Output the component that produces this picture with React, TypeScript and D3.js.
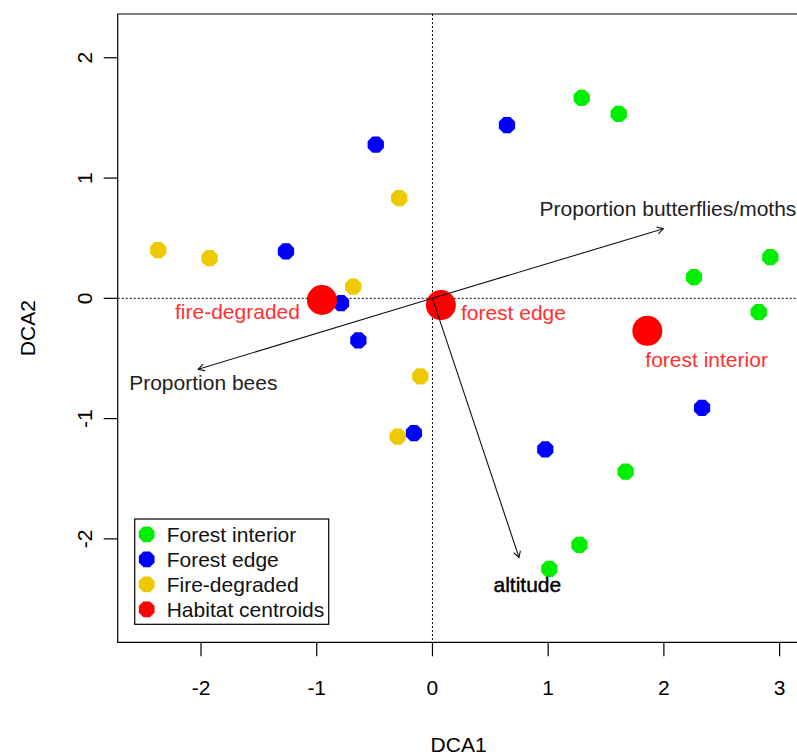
import React from "react";
import * as d3 from "d3";

const W = 797;
const H = 755;

// Sample scores (DCA1, DCA2)
const interiorX = [1.29, 1.61, 2.26, 2.92, 2.82, 1.67, 1.27, 1.01];
const interiorY = [1.666, 1.533, 0.177, 0.343, -0.114, -1.44, -2.05, -2.25];
const edgeX = [-0.49, -1.266, -0.79, 0.644, -0.64, -0.16, 0.975, 2.33];
const edgeY = [1.277, 0.39, -0.04, 1.44, -0.35, -1.12, -1.256, -0.91];
const fireX = [-2.37, -1.926, -0.287, -0.685, -0.105, -0.3];
const fireY = [0.4, 0.335, 0.834, 0.097, -0.649, -1.15];

// Habitat centroids
const centroidNames = ["fire-degraded", "forest edge", "forest interior"];
const centroidX = [-0.955, 0.073, 1.857];
const centroidY = [-0.014, -0.056, -0.27];

// Environmental vectors
const vectorNames = ["Proportion butterflies/moths", "Proportion bees", "altitude"];
const vectorX = [1.995, -2.024, 0.748];
const vectorY = [0.579, -0.59, -2.154];
const vectorLabelX = [2.035, -1.98, 0.82];
const vectorLabelY = [0.742, -0.705, -2.38];

const xTicks = [-2, -1, 0, 1, 2, 3];
const yTicks = [-2, -1, 0, 1, 2];

const legendLabels = ["Forest interior", "Forest edge", "Fire-degraded", "Habitat centroids"];
const COLORS = { interior: "#00EE00", edge: "#0000FF", fire: "#EEC900", centroid: "#FF0000" };
const legendColors = [COLORS.interior, COLORS.edge, COLORS.fire, COLORS.centroid];

const FONT = "'Liberation Sans', Arial, sans-serif";
const FS = 21;

const left = 117.7, right = 799.5, top = 14, bottom = 642.3;
const x = d3.scaleLinear().domain([-2.72, 3.172]).range([left, right]);
const y = d3.scaleLinear().domain([-2.86, 2.364]).range([bottom, top]);

function octagon(cx: number, cy: number, r: number) {
  const pts: [number, number][] = d3.range(8).map((i) => {
    const a = (Math.PI / 8) + (i * Math.PI) / 4;
    return [cx + r * Math.cos(a), cy + r * Math.sin(a)];
  });
  return (d3.line()(pts) || "") + "Z";
}

function arrowHead(x0: number, y0: number, x1: number, y1: number, len = 7) {
  const ang = Math.atan2(y1 - y0, x1 - x0);
  const a1 = ang + Math.PI - Math.PI / 6;
  const a2 = ang + Math.PI + Math.PI / 6;
  return `M${x1 + len * Math.cos(a1)},${y1 + len * Math.sin(a1)}L${x1},${y1}L${x1 + len * Math.cos(a2)},${y1 + len * Math.sin(a2)}`;
}

const centroidLabelStyle = [
  { anchor: "end", dx: -22, dy: 12 },
  { anchor: "start", dx: 20, dy: 8 },
  { anchor: "start", dx: -2, dy: 29 },
];

export default function App() {
  const groups = [
    { xs: interiorX, ys: interiorY, c: COLORS.interior },
    { xs: edgeX, ys: edgeY, c: COLORS.edge },
    { xs: fireX, ys: fireY, c: COLORS.fire },
  ];
  const x0 = x(0), y0 = y(0);
  return (
    <svg width={W} height={H} style={{ position: "absolute", left: 0, top: 0, background: "#fff" }} fontFamily={FONT}>
      <rect x={0} y={0} width={W} height={H} fill="#fff" />
      {/* zero lines */}
      <line x1={x0} x2={x0} y1={top} y2={bottom} stroke="#000" strokeWidth={1} strokeDasharray="2,2" />
      <line x1={left} x2={right} y1={y0} y2={y0} stroke="#000" strokeWidth={1} strokeDasharray="2,2" />
      {/* points */}
      {groups.map((g, gi) =>
        g.xs.map((v, i) => <path key={`${gi}-${i}`} d={octagon(x(v), y(g.ys[i]), 8.8)} fill={g.c} />)
      )}
      {/* centroids */}
      {centroidX.map((v, i) => (
        <circle key={`c${i}`} cx={x(v)} cy={y(centroidY[i])} r={15} fill={COLORS.centroid} />
      ))}
      {/* vectors */}
      {vectorX.map((v, i) => {
        const x1 = x(v), y1 = y(vectorY[i]);
        return (
          <g key={`v${i}`}>
            <line x1={x0} y1={y0} x2={x1} y2={y1} stroke="#111" strokeWidth={1.1} />
            <path d={arrowHead(x0, y0, x1, y1)} fill="none" stroke="#111" strokeWidth={1.1} />
          </g>
        );
      })}
      {vectorNames.map((n, i) => (
        <text
          key={`vl${i}`}
          x={x(vectorLabelX[i])}
          y={y(vectorLabelY[i])}
          dy="0.35em"
          textAnchor="middle"
          fontSize={FS}
          fill={i === 2 ? "#000" : "#222"}
          stroke={i === 2 ? "#000" : "none"}
          strokeWidth={i === 2 ? 0.4 : 0}
        >
          {n}
        </text>
      ))}
      {/* centroid labels */}
      {centroidNames.map((n, i) => (
        <text
          key={`cl${i}`}
          x={x(centroidX[i]) + centroidLabelStyle[i].dx}
          y={y(centroidY[i]) + centroidLabelStyle[i].dy}
          dy="0.35em"
          textAnchor={centroidLabelStyle[i].anchor as any}
          fontSize={FS}
          fill="#FF3030"
        >
          {n}
        </text>
      ))}
      {/* box */}
      <path d={`M${right},${top}H${left}V${bottom}H${right}`} fill="none" stroke="#000" strokeWidth={1.2} />
      {/* x axis */}
      {xTicks.map((t) => (
        <g key={`xt${t}`}>
          <line x1={x(t)} x2={x(t)} y1={bottom} y2={bottom + 14} stroke="#000" strokeWidth={1.2} />
          <text x={x(t)} y={688} dy="0.35em" textAnchor="middle" fontSize={FS} fill="#000">
            {t}
          </text>
        </g>
      ))}
      {yTicks.map((t) => (
        <g key={`yt${t}`}>
          <line x1={left} x2={left - 14} y1={y(t)} y2={y(t)} stroke="#000" strokeWidth={1.2} />
          <text transform={`translate(85,${y(t)}) rotate(-90)`} dy="0.35em" textAnchor="middle" fontSize={FS} fill="#000">
            {t}
          </text>
        </g>
      ))}
      <text x={(left + right) / 2} y={745} dy="0.35em" textAnchor="middle" fontSize={FS} fill="#000">
        DCA1
      </text>
      <text transform={`translate(28,${(top + bottom) / 2}) rotate(-90)`} dy="0.35em" textAnchor="middle" fontSize={FS} fill="#000">
        DCA2
      </text>
      {/* legend */}
      <rect x={134.7} y={519} width={194} height={105.3} fill="#fff" stroke="#000" strokeWidth={1.2} />
      {legendLabels.map((l, i) => (
        <g key={`lg${i}`}>
          <path d={octagon(146.7, 534.3 + i * 25, 8.5)} fill={legendColors[i]} />
          <text x={166.7} y={534.3 + i * 25} dy="0.35em" fontSize={FS} fill="#111">
            {l}
          </text>
        </g>
      ))}
    </svg>
  );
}
